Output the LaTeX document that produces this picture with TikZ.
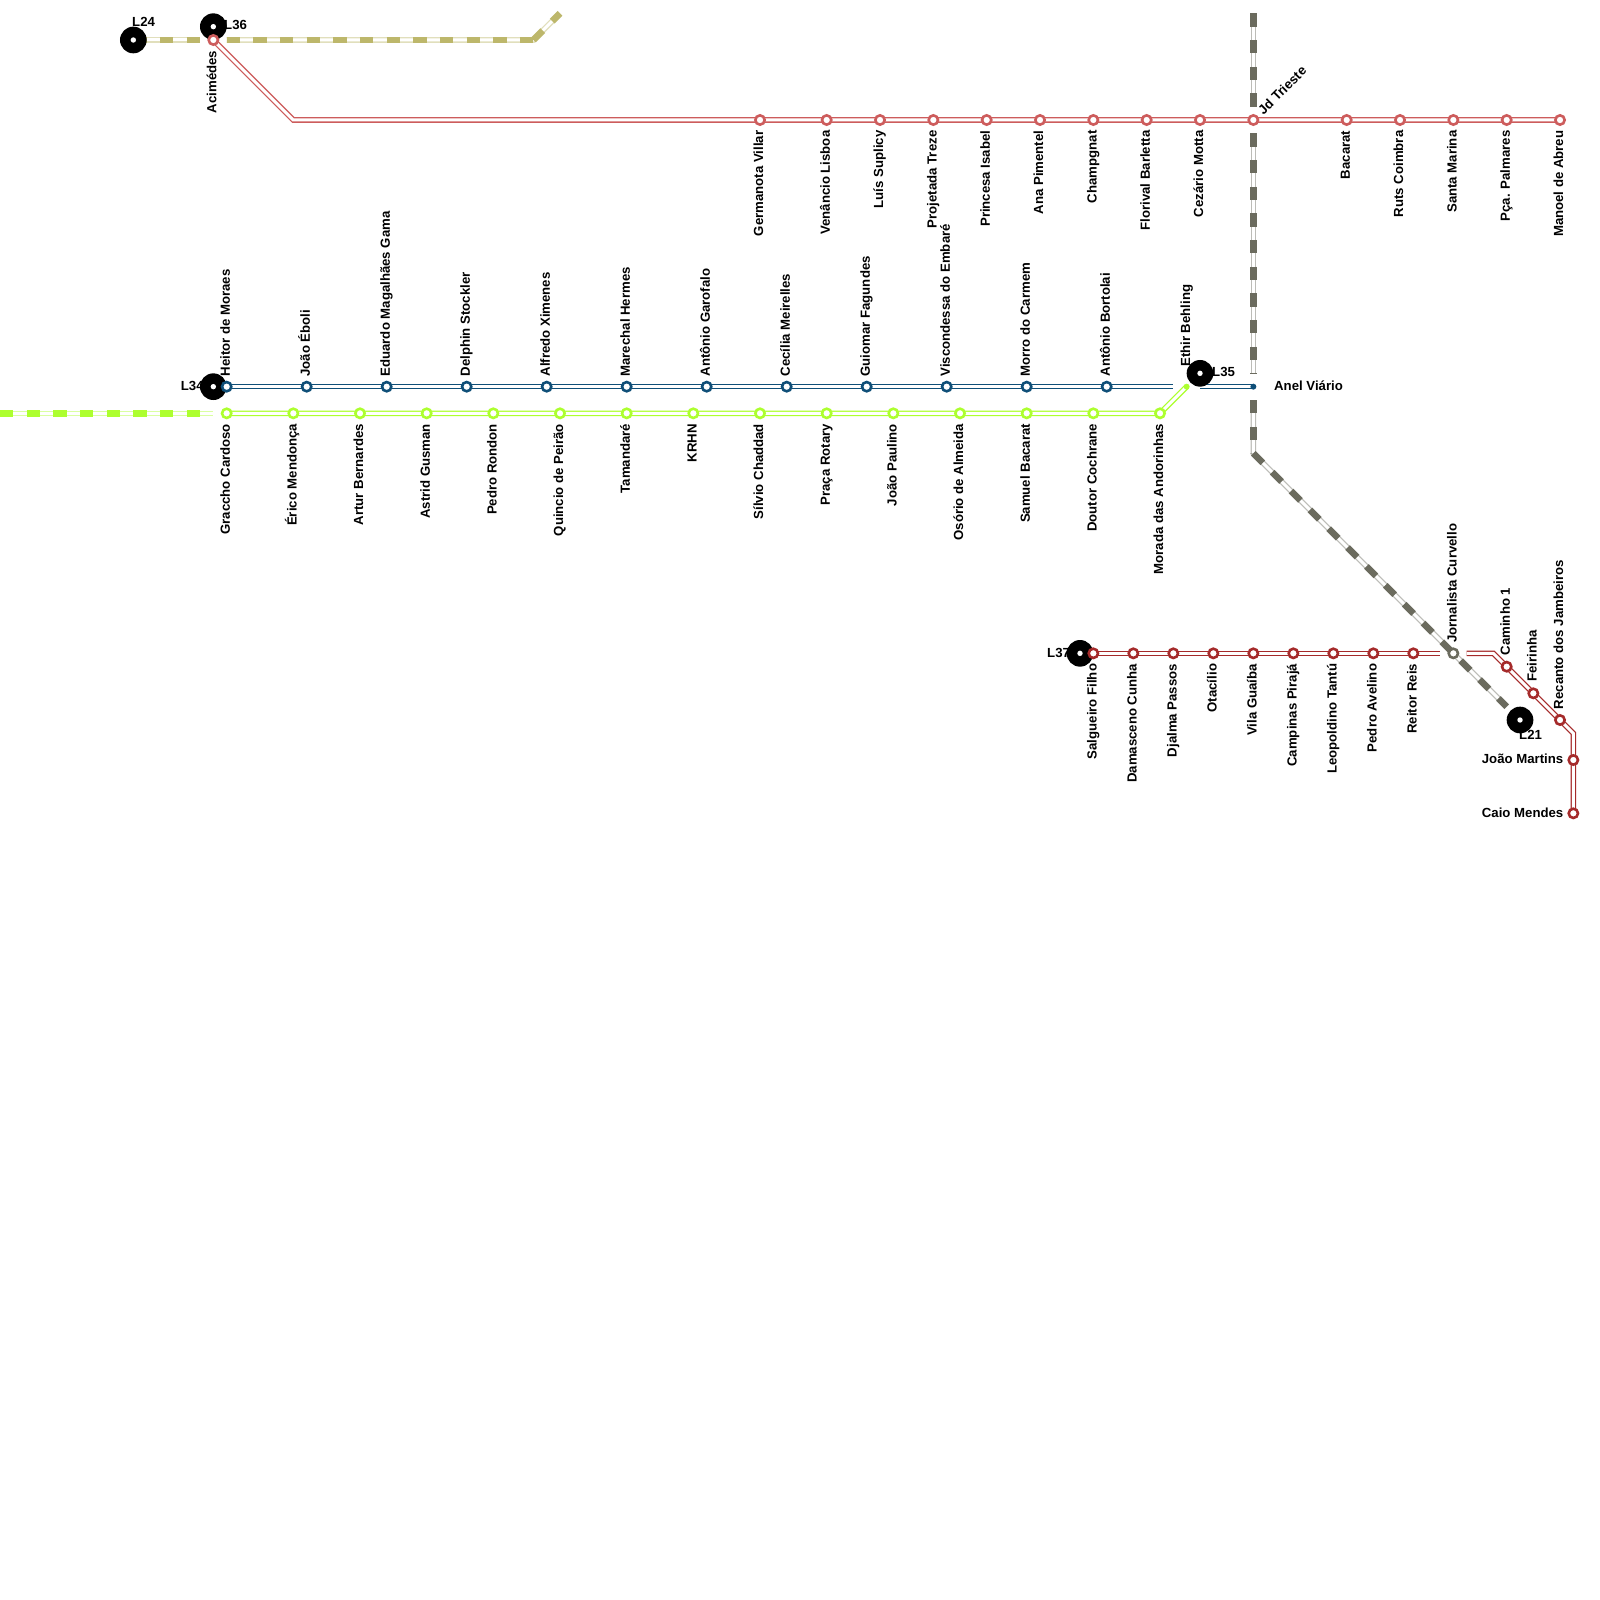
\documentclass[tikz,border=0pt]{standalone}
\usepackage{fontspec}
\setmainfont{Liberation Sans}
\pgfdeclarelayer{bg}
\pgfsetlayers{bg,main}
\definecolor{khaki}{HTML}{BDB76B}
\definecolor{lime}{HTML}{ADFF2F}
\definecolor{slate}{HTML}{6B6B5E}
\definecolor{rose}{HTML}{CD5C5C}
\definecolor{brick}{HTML}{A52A2A}
\definecolor{navy}{HTML}{0F4F78}
\tikzset{
  x=1pt,y=-1pt,
  txt/.style={font=\fontsize{13.2}{15}\bfseries\selectfont,inner sep=0pt,text=black},
  lblup/.style={txt,rotate=90,anchor=base west},
  lbldown/.style={txt,rotate=90,anchor=base east},
  lblright/.style={txt,anchor=base west},
  lblleft/.style={txt,anchor=base east},
  hub/.style={circle,fill=black,draw=none,minimum size=26.67pt,inner sep=0pt},
  hubdot/.style={circle,fill=white,draw=none,minimum size=5.4pt,inner sep=0pt},
  stn/.style={circle,fill=white,draw=#1,line width=2.6pt,minimum size=9.3pt,inner sep=0pt},
  dot/.style={circle,fill=#1,draw=none,minimum size=6pt,inner sep=0pt},
  rails/.style={draw=#1,line width=1.3pt,double=white,double distance=3pt,line join=miter},
  pale/.style={draw=#1!45,line width=1.3pt,double=white,double distance=3pt,line join=miter},
  dashseg/.style={draw=#1,line width=6.67pt,line cap=butt,dash pattern=on 13.33pt off 13.33pt},
}
\newcommand{\stnrow}[5]{% prefix, colour, y, label style, list x/name
  \foreach \idx/\xx/\nm in {#5}{
    \node[stn=#2] (#1\idx) at (\xx,#3) {};
    \ifnum#4=1
      \node[lblup] (#1L\idx) at (\xx+3.2,#3-10) {\nm};
    \else
      \node[lbldown] (#1L\idx) at (\xx+3.2,#3+10.4) {\nm};
    \fi
  }}
\begin{document}
\begin{tikzpicture}
\useasboundingbox (0,0) rectangle (1600,1600);
\begin{pgfonlayer}{bg}
\fill[white] (0,0) rectangle (1600,1600);
\end{pgfonlayer}

% interchange hubs
\foreach \n/\x/\y in {h24/133.33/40,h36/213.33/26.67,h34/213.33/386.67,h35/1200/373.33,h37/1080/653.33,h21/1520/720}{
  \node[hub] (\n) at (\x,\y) {};
  \node[hubdot] (\n d) at (\x,\y) {};
}
\node[lblright] (t24) at (132,26.7) {L24};
\node[lblright] (t36) at (224,30) {L36};
\node[lblright] (t34) at (180.7,390.3) {L34};
\node[lblright] (t35) at (1212,376) {L35};
\node[lblright] (t37) at (1047,657.3) {L37};
\node[lblright] (t21) at (1519,739.3) {L21};

% free line ends and bends
\coordinate (ka) at (200,40);
\coordinate (kb) at (226.67,40);
\coordinate (kc) at (533.33,40);
\coordinate (kd) at (560,13.33);
\coordinate (la) at (0,413.33);
\coordinate (lb) at (200,413.33);
\coordinate (lc) at (213.33,413.33);
\coordinate (ga) at (1253.33,13.33);
\coordinate (gb) at (1253.33,106.67);
\coordinate (gc) at (1253.33,133.33);
\coordinate (gd) at (1253.33,373.33);
\coordinate (ge) at (1253.33,400);
\coordinate (gf) at (1253.33,453.33);
\coordinate (gg) at (1506.67,706.67);
\coordinate (ra) at (293.33,120);
\coordinate (ba) at (1173.33,386.67);
\coordinate (bb) at (1200,386.67);
\coordinate (da) at (1440,653.33);
\coordinate (db) at (1466.67,653.33);
\coordinate (dc) at (1493.33,653.33);
\coordinate (dd) at (1573.33,733.33);

% red main line
\node[stn=rose] (r0) at (213.33,40) {};
\node[lbldown] (rL0) at (216.3,50.6) {Acimédes};
\stnrow{r}{rose}{120}{0}{1/760/Germanota Villar,2/826.67/Venâncio Lisboa,3/880/Luís Suplicy,4/933.33/Projetada Treze,5/986.67/Princesa Isabel,6/1040/Ana Pimentel,7/1093.33/Champgnat,8/1146.67/Florival Barletta,9/1200/Cezário Motta,11/1346.67/Bacarat,12/1400/Ruts Coimbra,13/1453.33/Santa Marina,14/1506.67/Pça. Palmares,15/1560/Manoel de Abreu}
\node[stn=rose] (r10) at (1253.33,120) {};
\node[txt,rotate=45,anchor=base west] (rL10) at (1263.5,115.5) {Jd Trieste};

% blue line
\stnrow{b}{navy}{386.67}{1}{1/226.67/Heitor de Moraes,2/306.67/João Éboli,3/386.67/Eduardo Magalhães Gama,4/466.67/Delphin Stockler,5/546.67/Alfredo Ximenes,6/626.67/Marechal Hermes,7/706.67/Antônio Garofalo,8/786.67/Cecília Meirelles,9/866.67/Guiomar Fagundes,10/946.67/Viscondessa do Embaré,11/1026.67/Morro do Carmem,12/1106.67/Antônio Bortolai}
\node[dot=navy] (b13) at (1253.33,386.67) {};
\node[lblright] (bL13) at (1274,390) {Anel Viário};

% lime line
\stnrow{l}{lime}{413.33}{0}{1/226.67/Graccho Cardoso,2/293.33/Érico Mendonça,3/360/Artur Bernardes,4/426.67/Astrid Gusman,5/493.33/Pedro Rondon,6/560/Quincio de Peirão,7/626.67/Tamandaré,8/693.33/KRHN,9/760/Sílvio Chaddad,10/826.67/Praça Rotary,11/893.33/João Paulino,12/960/Osório de Almeida,13/1026.67/Samuel Bacarat,14/1093.33/Doutor Cochrane,15/1160/Morada das Andorinhas}
\node[dot=lime] (l16) at (1186.67,386.67) {};
\node[lblup] (lL16) at (1190,367) {Ethir Behling};

% dark red line
\stnrow{d}{brick}{653.33}{0}{1/1093.33/Salgueiro Filho,2/1133.33/Damasceno Cunha,3/1173.33/Djalma Passos,4/1213.33/Otacílio,5/1253.33/Vila Guaíba,6/1293.33/Campinas Pirajá,7/1333.33/Leopoldino Tantú,8/1373.33/Pedro Avelino,9/1413.33/Reitor Reis}
\node[stn=slate] (g1) at (1453.33,653.33) {};
\node[lblup] (gL1) at (1456.5,642.8) {Jornalista Curvello};
\node[stn=brick] (d10) at (1506.67,666.67) {};
\node[lblup] (dL10) at (1509.9,655.5) {Caminho 1};
\node[stn=brick] (d11) at (1533.33,693.33) {};
\node[lblup] (dL11) at (1536.5,682) {Feirinha};
\node[stn=brick] (d12) at (1560,720) {};
\node[lblup] (dL12) at (1563.2,709.3) {Recanto dos Jambeiros};
\node[stn=brick] (d13) at (1573.33,760) {};
\node[lblleft] (dL13) at (1563.5,763.6) {João Martins};
\node[stn=brick] (d14) at (1573.33,813.33) {};
\node[lblleft] (dL14) at (1563.5,817) {Caio Mendes};

\begin{pgfonlayer}{bg}
% khaki line
\draw[pale=khaki] (h24.center) -- (ka);
\draw[pale=khaki] (kb) -- (kc) -- (kd);
\draw[dashseg=khaki] (h24.center) -- (ka);
\draw[dashseg=khaki] (kb) -- (kc);
\draw[dashseg=khaki] (kc) -- (kd);
% lime feeder
\draw[pale=lime] (la) -- (lc);
\draw[dashseg=lime] (la) -- (lb);
% slate line
\draw[pale=slate] (ga) -- (gb);
\draw[pale=slate] (gc) -- (gd);
\draw[pale=slate] (ge) -- (gf) -- (gg);
\draw[dashseg=slate] (ga) -- (gb);
\draw[dashseg=slate] (gc) -- (gd);
\draw[dashseg=slate] (ge) -- (gf);
\draw[dashseg=slate] (gf) -- (gg);
% double-rail lines
\draw[rails=rose] (r0.center) -- (ra) -- (r15.center);
\draw[rails=navy] (b1.center) -- (ba);
\draw[rails=navy] (bb) -- (b13.center);
\draw[rails=lime] (l1.center) -- (l15.center) -- (l16.center);
\draw[rails=brick] (d1.center) -- (da);
\draw[rails=brick] (db) -- (dc) -- (dd) -- (d14.center);
\end{pgfonlayer}
\end{tikzpicture}
\end{document}
